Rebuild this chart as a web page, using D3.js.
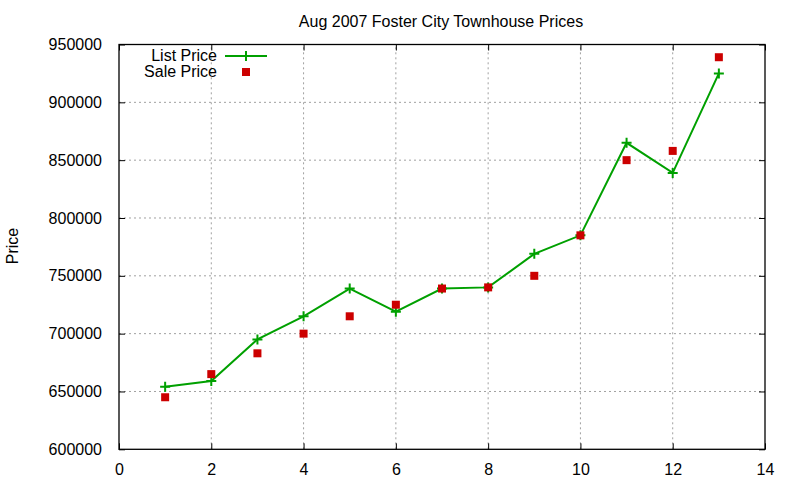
<!DOCTYPE html>
<html>
<head>
<meta charset="utf-8">
<script src="https://cdn.jsdelivr.net/npm/d3@7"></script>
<style>
  body { margin: 0; background: #fff; }
  text { font-family: "Liberation Sans", Arial, sans-serif; fill: #000; }
</style>
</head>
<body>
<svg id="chart" width="800" height="480"></svg>
<script>
// values
var units = [1, 2, 3, 4, 5, 6, 7, 8, 9, 10, 11, 12, 13];
var listPrice = [654000, 659000, 695000, 715000, 739000, 719000, 739000, 740000, 769000, 785000, 865000, 839000, 925000];
var salePrice = [645000, 665000, 683000, 700000, 715000, 725000, 739000, 740000, 750000, 785000, 850000, 858000, 939000];
var xTicks = [0, 2, 4, 6, 8, 10, 12, 14];
var yTicks = [600000, 650000, 700000, 750000, 800000, 850000, 900000, 950000];

var svg = d3.select('#chart');
// plot box (window.top is reserved, so use other names)
var plotLeft = 119, plotRight = 765, plotTop = 44.5, plotBottom = 449.3;

var x = d3.scaleLinear().domain([0, 14]).range([plotLeft, plotRight]);
var y = d3.scaleLinear().domain([600000, 950000]).range([plotBottom, plotTop]);

// grid lines
var grid = svg.append('g');
grid.selectAll('.gx')
  .data(xTicks.slice(1, -1))
  .enter().append('line')
  .attr('x1', function(d) { return x(d); })
  .attr('x2', function(d) { return x(d); })
  .attr('y1', plotBottom).attr('y2', plotTop)
  .attr('stroke', '#a0a0a0').attr('stroke-width', 1)
  .attr('stroke-dasharray', '2,3');
grid.selectAll('.gy')
  .data(yTicks.slice(1, -1))
  .enter().append('line')
  .attr('y1', function(d) { return y(d); })
  .attr('y2', function(d) { return y(d); })
  .attr('x1', plotLeft).attr('x2', plotRight)
  .attr('stroke', '#a0a0a0').attr('stroke-width', 1)
  .attr('stroke-dasharray', '2,3');

// axes with inward ticks on all four sides
svg.append('g')
  .attr('transform', 'translate(0,' + plotBottom + ')')
  .call(d3.axisBottom(x).tickValues(xTicks).tickSizeInner(-6).tickSizeOuter(0).tickPadding(14))
  .call(function(g) { g.select('.domain').remove(); });
svg.append('g')
  .attr('transform', 'translate(0,' + plotTop + ')')
  .call(d3.axisTop(x).tickValues(xTicks).tickSizeInner(-6).tickSizeOuter(0).tickFormat(''))
  .call(function(g) { g.select('.domain').remove(); });
svg.append('g')
  .attr('transform', 'translate(' + plotLeft + ',0)')
  .call(d3.axisLeft(y).tickValues(yTicks).tickSizeInner(-6).tickSizeOuter(0).tickPadding(17).tickFormat(d3.format('d')))
  .call(function(g) { g.select('.domain').remove(); });
svg.append('g')
  .attr('transform', 'translate(' + plotRight + ',0)')
  .call(d3.axisRight(y).tickValues(yTicks).tickSizeInner(-6).tickSizeOuter(0).tickFormat(''))
  .call(function(g) { g.select('.domain').remove(); });

svg.selectAll('.tick text')
  .attr('font-size', '16px')
  .attr('font-family', '"Liberation Sans", Arial, sans-serif');
svg.selectAll('.tick line').attr('stroke', '#000');

// frame
svg.append('rect')
  .attr('x', plotLeft).attr('y', plotTop)
  .attr('width', plotRight - plotLeft).attr('height', plotBottom - plotTop)
  .attr('fill', 'none').attr('stroke', '#000').attr('stroke-width', 1.3);

// list price line with plus markers
var green = '#00a000';
var line = d3.line()
  .x(function(d, i) { return x(units[i]); })
  .y(function(d) { return y(d); });
svg.append('path')
  .datum(listPrice)
  .attr('d', line)
  .attr('fill', 'none').attr('stroke', green).attr('stroke-width', 2);

function plus(g, cx, cy) {
  g.append('path')
    .attr('d', 'M' + (cx - 5) + ',' + cy + 'h10M' + cx + ',' + (cy - 5) + 'v10')
    .attr('stroke', green).attr('stroke-width', 2).attr('fill', 'none');
}
var plusG = svg.append('g');
listPrice.forEach(function(d, i) { plus(plusG, x(units[i]), y(d)); });

// sale price squares
var red = '#cc0000';
svg.append('g').selectAll('rect')
  .data(salePrice)
  .enter().append('rect')
  .attr('x', function(d, i) { return x(units[i]) - 4; })
  .attr('y', function(d) { return y(d) - 4; })
  .attr('width', 8).attr('height', 8)
  .attr('fill', red);

// legend
var legend = svg.append('g');
legend.append('text')
  .attr('x', 217).attr('y', 61)
  .attr('text-anchor', 'end').attr('font-size', '16px')
  .text('List Price');
legend.append('line')
  .attr('x1', 225).attr('x2', 267).attr('y1', 56).attr('y2', 56)
  .attr('stroke', green).attr('stroke-width', 2);
plus(legend, 246, 56);
legend.append('text')
  .attr('x', 217).attr('y', 77)
  .attr('text-anchor', 'end').attr('font-size', '16px')
  .text('Sale Price');
legend.append('rect')
  .attr('x', 242).attr('y', 68).attr('width', 8).attr('height', 8)
  .attr('fill', red);

// title and axis label
svg.append('text')
  .attr('x', 441).attr('y', 27)
  .attr('text-anchor', 'middle').attr('font-size', '16px')
  .text('Aug 2007 Foster City Townhouse Prices');
svg.append('text')
  .attr('transform', 'translate(18,246) rotate(-90)')
  .attr('text-anchor', 'middle').attr('font-size', '16px')
  .text('Price');
</script>
</body>
</html>
